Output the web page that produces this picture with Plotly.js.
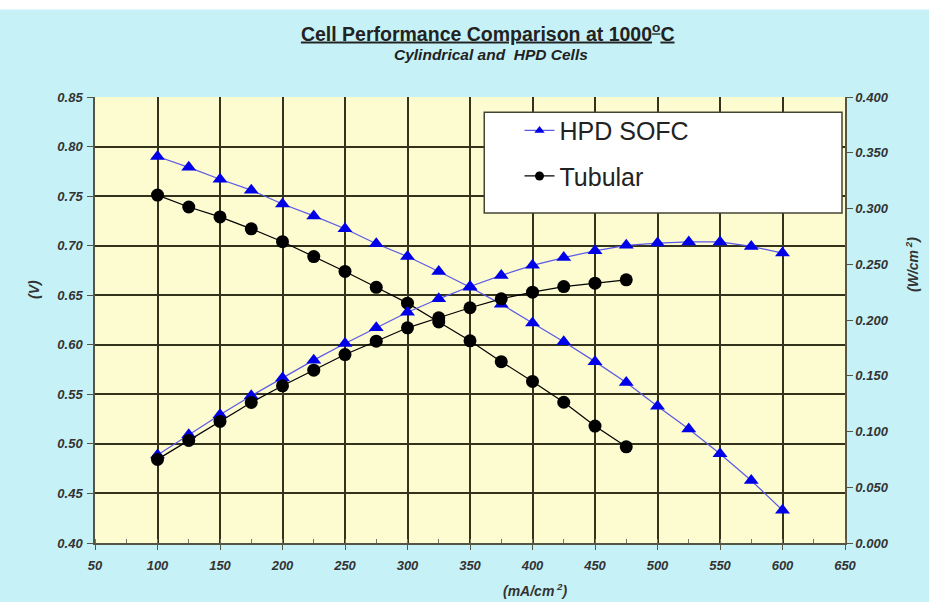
<!DOCTYPE html>
<html>
<head>
<meta charset="utf-8">
<script src="https://cdn.plot.ly/plotly-3.0.1.min.js"></script>
<style>
  html, body { margin: 0; padding: 0; background: #c6f2f7; }
  #chart { width: 929px; height: 602px; }
</style>
</head>
<body>
<div id="chart"></div>
<script>
// Current density (mA/cm2)
const currentHPD = [100, 125, 150, 175, 200, 225, 250, 275, 300, 325, 350, 375, 400, 425, 450, 475, 500, 525, 550, 575, 600];
const currentTubular = [100, 125, 150, 175, 200, 225, 250, 275, 300, 325, 350, 375, 400, 425, 450, 475];

// Cell voltage (V)
const voltageHPD = [0.790, 0.779, 0.767, 0.756, 0.742, 0.730, 0.717, 0.702, 0.689, 0.674, 0.658, 0.641, 0.622, 0.603, 0.583, 0.562, 0.538, 0.515, 0.490, 0.463, 0.433];
const voltageTubular = [0.751, 0.739, 0.729, 0.717, 0.704, 0.689, 0.674, 0.658, 0.642, 0.623, 0.604, 0.583, 0.563, 0.542, 0.518, 0.497];

// Power density (W/cm2)
const powerHPD = [0.079, 0.097, 0.115, 0.132, 0.148, 0.164, 0.179, 0.193, 0.207, 0.219, 0.230, 0.240, 0.249, 0.256, 0.262, 0.267, 0.269, 0.270, 0.270, 0.266, 0.260];
const powerTubular = [0.075, 0.092, 0.109, 0.126, 0.141, 0.155, 0.169, 0.181, 0.193, 0.202, 0.211, 0.219, 0.225, 0.230, 0.233, 0.236];

const seriesNames = ['HPD SOFC', 'Tubular'];

const BLUE_LINE = '#5a5ae6';
const BLUE_MARK = '#0000e8';
const BLACK = '#000000';

const hpdMarker = { symbol: 'triangle-up', size: 13, color: BLUE_MARK };
const tubMarker = { symbol: 'circle', size: 13, color: BLACK };

function curve(x, y, color, marker, axis) {
  return {
    x: x, y: y, type: 'scatter', mode: 'lines+markers', showlegend: false,
    line: { color: color, width: 1.2 }, marker: marker, yaxis: axis
  };
}

// Legend keys: no visible points, smaller symbols than the plotted markers
function legendKey(name, group, lineColor, markColor, symbol) {
  return {
    x: [null], y: [null], name: name, legendgroup: group, showlegend: true,
    type: 'scatter', mode: 'lines+markers', hoverinfo: 'skip',
    line: { color: lineColor, width: 1.2 }, marker: { symbol: symbol, size: 9, color: markColor }
  };
}

const traces = [
  curve(currentHPD, voltageHPD, BLUE_LINE, hpdMarker, 'y'),
  curve(currentHPD, powerHPD, BLUE_LINE, hpdMarker, 'y2'),
  curve(currentTubular, voltageTubular, BLACK, tubMarker, 'y'),
  curve(currentTubular, powerTubular, BLACK, tubMarker, 'y2'),
  legendKey(seriesNames[0], 'hpd', BLUE_LINE, BLUE_MARK, 'triangle-up'),
  legendKey(seriesNames[1], 'tub', BLACK, BLACK, 'circle')
];

const FONT = 'Arial, "Liberation Sans", sans-serif';
const tickFont = { family: FONT, size: 13, color: '#333333', weight: 'bold', style: 'italic' };
const axisTitleFont = { family: FONT, size: 14, color: '#333333' };
const GRID = '#33331c';

const layout = {
  width: 929,
  height: 602,
  margin: { l: 95, r: 84, t: 97, b: 59 },
  paper_bgcolor: '#c6f2f7',
  plot_bgcolor: '#fdfbd0',
  showlegend: true,
  title: {
    text: '<b><u>Cell Performance Comparison at 1000<sup style="font-size:70%">o</sup>C</u></b>',
    font: { family: FONT, size: 19.5, color: '#222222' },
    x: 0.525, xanchor: 'center',
    y: 0.944, yanchor: 'middle'
  },
  xaxis: {
    range: [50, 650],
    dtick: 50,
    tick0: 50,
    showgrid: true,
    gridcolor: GRID,
    gridwidth: 1.6,
    showline: true,
    linecolor: '#555544',
    linewidth: 1.5,
    ticks: 'outside',
    ticklen: 5,
    tickcolor: '#555544',
    minor: { dtick: 25, ticks: 'inside', ticklen: 4, tickcolor: '#777766', showgrid: false },
    zeroline: false,
    tickfont: tickFont,
    ticklabelstandoff: 5
  },
  yaxis: {
    range: [0.40, 0.85],
    dtick: 0.05,
    tick0: 0.40,
    tickformat: '.2f',
    showgrid: true,
    gridcolor: GRID,
    gridwidth: 1.6,
    showline: true,
    linecolor: '#555544',
    linewidth: 1.5,
    ticks: 'outside',
    ticklen: 6,
    tickcolor: '#555544',
    zeroline: false,
    tickfont: tickFont,
    ticklabelstandoff: 2
  },
  yaxis2: {
    overlaying: 'y',
    side: 'right',
    range: [0, 0.4],
    dtick: 0.05,
    tick0: 0,
    tickformat: '.3f',
    showgrid: false,
    showline: true,
    linecolor: '#555544',
    linewidth: 1.5,
    ticks: 'outside',
    ticklen: 6,
    tickcolor: '#555544',
    zeroline: false,
    tickfont: tickFont
  },
  legend: {
    x: 0.566, xanchor: 'left',
    y: 0.976, yanchor: 'top',
    bgcolor: 'rgba(0,0,0,0)',
    borderwidth: 0,
    font: { family: FONT, size: 25, color: '#222222' },
    traceorder: 'grouped',
    tracegroupgap: 10
  },
  shapes: [
    // legend panel
    {
      type: 'rect', xref: 'paper', yref: 'paper',
      x0: 0.519, x1: 0.996, y0: 0.740, y1: 0.966,
      fillcolor: '#ffffff', line: { color: '#444433', width: 1.5 },
      layer: 'above'
    },
    // white band across the top of the page
    {
      type: 'rect', xref: 'paper', yref: 'paper',
      x0: -0.2, x1: 1.2, y0: 1.196, y1: 1.3,
      fillcolor: '#ffffff', line: { width: 0 }, layer: 'below'
    }
  ],
  annotations: [
    {
      text: '<b><i>Cylindrical and  HPD Cells</i></b>',
      xref: 'paper', yref: 'paper',
      x: 0.528, y: 1.095, xanchor: 'center', yanchor: 'middle',
      showarrow: false,
      font: { family: FONT, size: 15.5, color: '#222222' }
    },
    // axis titles
    {
      text: '<b><i>(mA/cm<sup> 2</sup>)</i></b>',
      xref: 'paper', yref: 'paper',
      x: (535 - 95) / 750, y: -(590 - 543) / 446,
      xanchor: 'center', yanchor: 'middle', showarrow: false,
      font: axisTitleFont
    },
    {
      text: '<b><i>(V)</i></b>',
      xref: 'paper', yref: 'paper',
      x: -(95 - 34) / 750, y: (543 - 290) / 446,
      xanchor: 'center', yanchor: 'middle', showarrow: false,
      textangle: -90,
      font: axisTitleFont
    },
    {
      text: '<b><i>(W/cm<sup> 2</sup>)</i></b>',
      xref: 'paper', yref: 'paper',
      x: 1 + (912 - 845) / 750, y: (543 - 265) / 446,
      xanchor: 'center', yanchor: 'middle', showarrow: false,
      textangle: -90,
      font: axisTitleFont
    }
  ]
};

Plotly.newPlot('chart', traces, layout, { displayModeBar: false, responsive: false });
</script>
</body>
</html>
